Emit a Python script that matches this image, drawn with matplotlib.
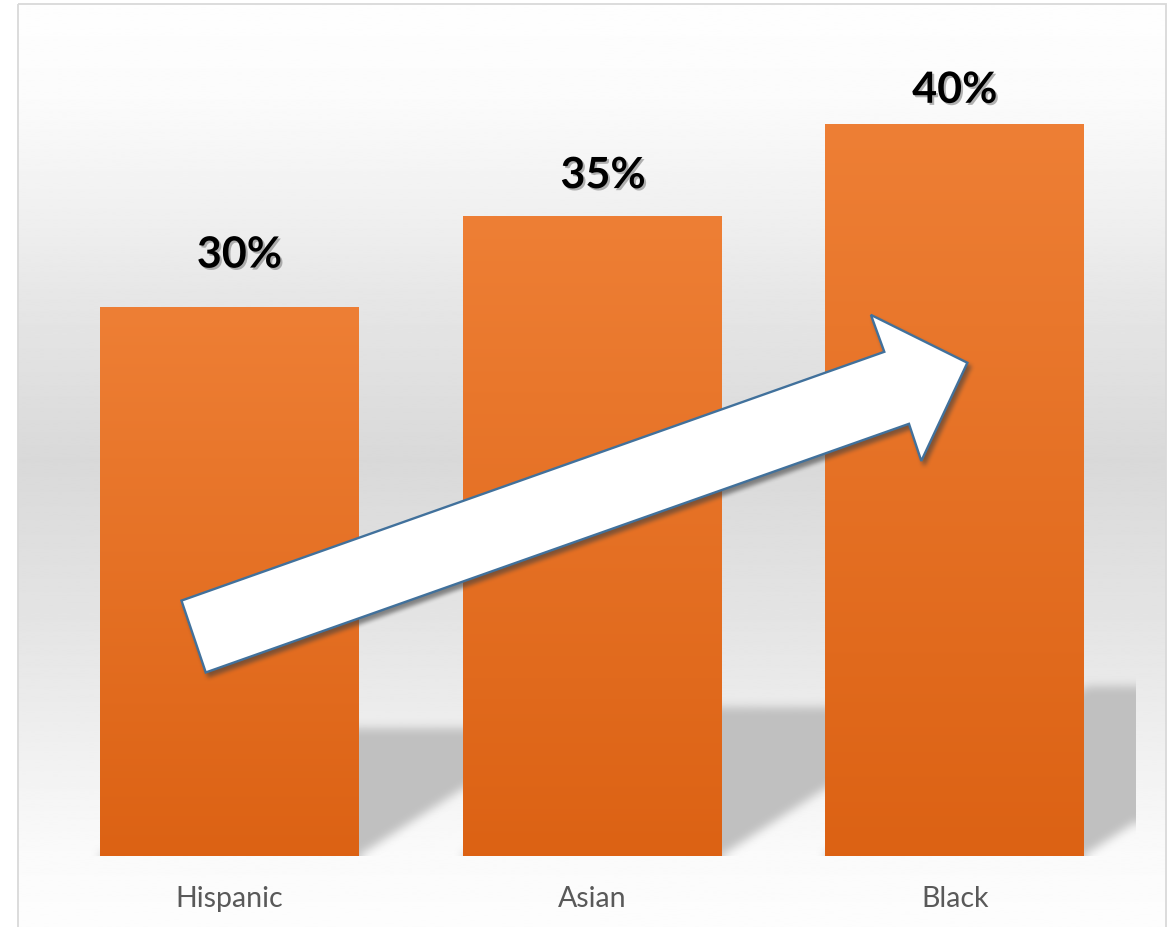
import numpy as np
import matplotlib
matplotlib.use('Agg')
import matplotlib.pyplot as plt
from matplotlib.patches import Polygon, Rectangle
import matplotlib.patheffects as pe

plt.rcParams['font.family'] = ['Lato', 'DejaVu Sans']

# data
groups = ['Hispanic', 'Asian', 'Black']
shares = [30, 35, 40]
share_labels = ['30%', '35%', '40%']

# label nudges (points) - labels were hand placed in the original
label_dx = [7.2, 7.9, 0.0]
label_dy = [28.8, 20.2, 15.8]

# decorative arrow outline, in data units (x = category slot, y = percent)
arrow_x = [-0.132, 1.806, 1.769, 2.035, 1.908, 1.874, -0.065]
arrow_y = [13.97, 27.58, 29.60, 26.98, 21.61, 23.64, 10.04]

# background grey ramp (pixel row from top, grey level)
bg_rows = [4, 100, 220, 300, 460, 620, 700, 850, 927]
bg_levels = [254, 251, 239, 230, 217, 228, 235, 250, 253]

W_PX, H_PX = 1174, 927
Y_TOP = 44.8


def box_blur(a, r, axis):
    a = np.moveaxis(a, axis, -1)
    pad = np.pad(a, [(0, 0)] * (a.ndim - 1) + [(r + 1, r)], mode='edge')
    c = np.cumsum(pad, axis=-1)
    out = (c[..., 2 * r + 1:] - c[..., :-(2 * r + 1)]) / (2 * r + 1)
    return np.moveaxis(out, -1, axis)


def soft_shadow(im, dpi):
    # blurred, offset copy of whatever the artist drew
    pad = 14
    a = np.pad(im[..., 3], pad)
    for i in (0, 1):
        a = box_blur(box_blur(a, 2, i), 2, i)
    out = np.zeros(a.shape + (4,))
    out[..., :3] = 0.25
    out[..., 3] = a * 0.6
    return out, -pad + 3, -pad - 4


fig = plt.figure(figsize=(W_PX / 100, H_PX / 100), dpi=100)

# background with gradient and thin border
bg = fig.add_axes([0, 0, 1, 1], zorder=0)
bg.axis('off')
rows = np.linspace(4, H_PX, 600)
grey = np.interp(rows, bg_rows, bg_levels) / 255
bg.imshow(grey[:, None], cmap='gray', vmin=0, vmax=1, extent=(18, 1166, H_PX, 4),
          aspect='auto', interpolation='bilinear')
bg.add_patch(Rectangle((18, 4), 1148, 960, fill=False, edgecolor='#d9d9d9', lw=1.3))
bg.set_xlim(0, W_PX)
bg.set_ylim(H_PX, 0)

# main plot
ax = fig.add_axes([48 / W_PX, 71 / H_PX, 1088 / W_PX, 819 / H_PX], zorder=1)
ax.patch.set_alpha(0)
x = np.arange(len(groups))
bar_w = 0.714
bars = ax.bar(x, shares, width=bar_w, color='#e56f24', zorder=2)

# perspective shadow behind the bars
AW, AH = 1088, 819
gx = np.linspace(-0.5, 2.5, AW)
gy = np.linspace(0, Y_TOP, AH)
X, Y = np.meshgrid(gx, gy)
k = 1.55 * (AH / Y_TOP) / (AW / 3)
mask = np.zeros_like(X)
for xi, h in zip(x, shares):
    left = xi - bar_w / 2 + k * Y
    m = (Y <= 0.232 * h) & (X >= left) & (X <= left + bar_w)
    mask[m] = 1.0
for ax_i in (0, 1):
    mask = box_blur(mask, 5, ax_i)
    mask = box_blur(mask, 5, ax_i)
shadow = np.zeros((AH, AW, 4))
shadow[..., :3] = 0.755
shadow[..., 3] = mask
ax.imshow(shadow, extent=(-0.5, 2.5, 0, Y_TOP), origin='lower', aspect='auto',
          zorder=1, interpolation='bilinear')

# orange gradient on each bar
top_c = np.array([0.933, 0.498, 0.208])
bot_c = np.array([0.863, 0.384, 0.078])
t = np.linspace(0, 1, 256)[:, None]
grad = (top_c * (1 - t) + bot_c * t)[:, None, :]
for b in bars:
    ax.imshow(grad, extent=(b.get_x(), b.get_x() + b.get_width(), 0, b.get_height()),
              origin='upper', aspect='auto', zorder=2.1, interpolation='bilinear')

# value labels
for b, lab, dx, dy in zip(bars, share_labels, label_dx, label_dy):
    ax.annotate(lab, (b.get_x() + b.get_width() / 2, b.get_height()),
                xytext=(dx, dy), textcoords='offset points', ha='center', va='baseline',
                fontsize=31, fontweight='bold', color='black', zorder=6,
                path_effects=[pe.withSimplePatchShadow(offset=(1.5, -1.5),
                                                       shadow_rgbFace='#808080', alpha=0.6)])

# arrow with a soft drop shadow
pts = np.column_stack([arrow_x, arrow_y])
arrow_shadow = Polygon(pts, closed=True, facecolor='black', edgecolor='black', lw=1.7,
                       zorder=4.9)
arrow_shadow.set_agg_filter(soft_shadow)
ax.add_patch(arrow_shadow)
arrow = Polygon(pts, closed=True, facecolor='white', edgecolor='#41719c', lw=1.7,
                joinstyle='miter', zorder=5)
ax.add_patch(arrow)

ax.set_xlim(-0.5, 2.5)
ax.set_ylim(0, Y_TOP)
ax.set_yticks([])
ax.set_xticks(x, groups)
ax.tick_params(axis='x', length=0, pad=36.5, labelsize=20.5, labelcolor='#595959')
for tl in ax.get_xticklabels():
    tl.set_va('baseline')
for s in ax.spines.values():
    s.set_visible(False)

fig.savefig('out.png', dpi=100)
